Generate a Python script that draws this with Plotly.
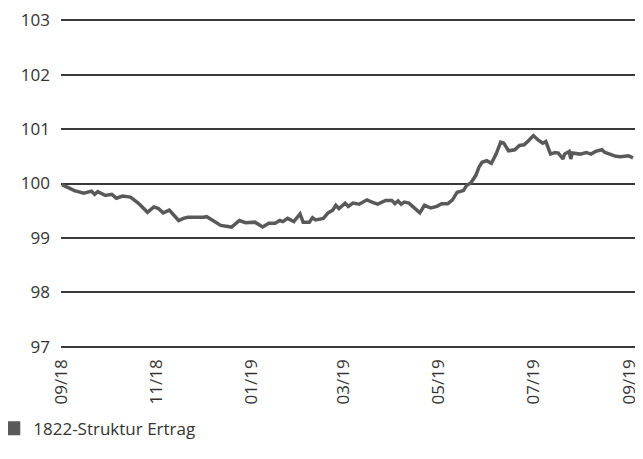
import plotly.graph_objects as go

dates = [
    "2018-09-01", "2018-09-05", "2018-09-09", "2018-09-15", "2018-09-20", "2018-09-22",
    "2018-09-24", "2018-09-29", "2018-10-03", "2018-10-06", "2018-10-10", "2018-10-15",
    "2018-10-20", "2018-10-26", "2018-10-30", "2018-11-02", "2018-11-05", "2018-11-09",
    "2018-11-12", "2018-11-15", "2018-11-18", "2018-11-21", "2018-12-01", "2018-12-03",
    "2018-12-07", "2018-12-12", "2018-12-19", "2018-12-24", "2018-12-28", "2019-01-03",
    "2019-01-08", "2019-01-12", "2019-01-16", "2019-01-19", "2019-01-21", "2019-01-24",
    "2019-01-28", "2019-02-01", "2019-02-03", "2019-02-07", "2019-02-09", "2019-02-11",
    "2019-02-16", "2019-02-19", "2019-02-22", "2019-02-24", "2019-02-26", "2019-03-02",
    "2019-03-04", "2019-03-07", "2019-03-11", "2019-03-16", "2019-03-20", "2019-03-23",
    "2019-03-28", "2019-04-01", "2019-04-03", "2019-04-05", "2019-04-07", "2019-04-09",
    "2019-04-12", "2019-04-15", "2019-04-19", "2019-04-22", "2019-04-26", "2019-04-30",
    "2019-05-03", "2019-05-07", "2019-05-10", "2019-05-13", "2019-05-17", "2019-05-19",
    "2019-05-22", "2019-05-25", "2019-05-27", "2019-05-29", "2019-06-01", "2019-06-04",
    "2019-06-07", "2019-06-10", "2019-06-12", "2019-06-15", "2019-06-19", "2019-06-22",
    "2019-06-25", "2019-06-28", "2019-07-01", "2019-07-04", "2019-07-07", "2019-07-09",
    "2019-07-12", "2019-07-15", "2019-07-17", "2019-07-20", "2019-07-21", "2019-07-24",
    "2019-07-25", "2019-07-26", "2019-07-31", "2019-08-04", "2019-08-07", "2019-08-10",
    "2019-08-14", "2019-08-16", "2019-08-19", "2019-08-23", "2019-08-26", "2019-08-31",
    "2019-09-03",
]

values = [
    99.98, 99.92, 99.87, 99.82, 99.86, 99.80,
    99.85, 99.78, 99.80, 99.73, 99.77, 99.75,
    99.64, 99.47, 99.57, 99.54, 99.46, 99.51,
    99.42, 99.32, 99.36, 99.38, 99.38, 99.39,
    99.32, 99.23, 99.20, 99.32, 99.28, 99.29,
    99.20, 99.27, 99.27, 99.32, 99.30, 99.36,
    99.30, 99.44, 99.29, 99.29, 99.37, 99.33,
    99.36, 99.46, 99.51, 99.60, 99.54, 99.64,
    99.58, 99.64, 99.62, 99.70, 99.65, 99.62,
    99.69, 99.69, 99.63, 99.68, 99.62, 99.66,
    99.64, 99.57, 99.46, 99.60, 99.55, 99.58,
    99.63, 99.63, 99.70, 99.84, 99.87, 99.96,
    100.02, 100.15, 100.30, 100.39, 100.42, 100.37,
    100.54, 100.76, 100.74, 100.60, 100.62, 100.70,
    100.71, 100.79, 100.88, 100.80, 100.74, 100.77,
    100.54, 100.57, 100.56, 100.45, 100.54, 100.59,
    100.45, 100.56, 100.54, 100.57, 100.54, 100.59,
    100.62, 100.57, 100.54, 100.50, 100.49, 100.51,
    100.47,
]

series_name = "1822-Struktur Ertrag"
x_tick_vals = ["2018-09-01", "2018-11-01", "2019-01-01", "2019-03-01",
               "2019-05-01", "2019-07-01", "2019-09-01"]
x_tick_text = ["09/18", "11/18", "01/19", "03/19", "05/19", "07/19", "09/19"]
y_tick_vals = [97, 98, 99, 100, 101, 102, 103]

LINE_COLOR = "#595959"
TEXT_COLOR = "#333333"
FONT = "Open Sans"

fig = go.Figure()
fig.add_trace(go.Scatter(
    x=dates, y=values, mode="lines",
    line=dict(color=LINE_COLOR, width=3.5),
    showlegend=False, name=series_name,
))
fig.add_trace(go.Scatter(
    x=[None], y=[None], mode="markers",
    marker=dict(symbol="square", size=14, color=LINE_COLOR),
    name=series_name, showlegend=True,
))

# page body has an 8px margin, so the figure is 8px smaller and offsets shifted
fig.update_layout(
    width=635, height=451,
    margin=dict(l=53, r=8, t=10, b=110, autoexpand=False),
    paper_bgcolor="white", plot_bgcolor="white",
    font=dict(family=FONT, size=17, color=TEXT_COLOR),
    legend=dict(x=-0.118, y=-0.241, xanchor="left", yanchor="middle",
                font=dict(size=17, color=TEXT_COLOR),
                bgcolor="rgba(0,0,0,0)", borderwidth=0),
)
fig.update_xaxes(
    type="date",
    range=["2018-08-31 09:00", "2019-09-04 07:00"],
    tickvals=x_tick_vals, ticktext=x_tick_text,
    tickangle=-90, showgrid=False, zeroline=False, showline=False,
    ticks="", ticklabelstandoff=6, automargin=False,
    tickfont=dict(size=17, color=TEXT_COLOR),
)
fig.update_yaxes(
    range=[96.96, 103.04], tickvals=y_tick_vals,
    showgrid=True, gridcolor="#3a3a3a", gridwidth=1.5,
    zeroline=False, showline=False, ticks="",
    ticklabelstandoff=10, automargin=False,
    tickfont=dict(size=17, color=TEXT_COLOR),
)

fig.write_html("out.html")
